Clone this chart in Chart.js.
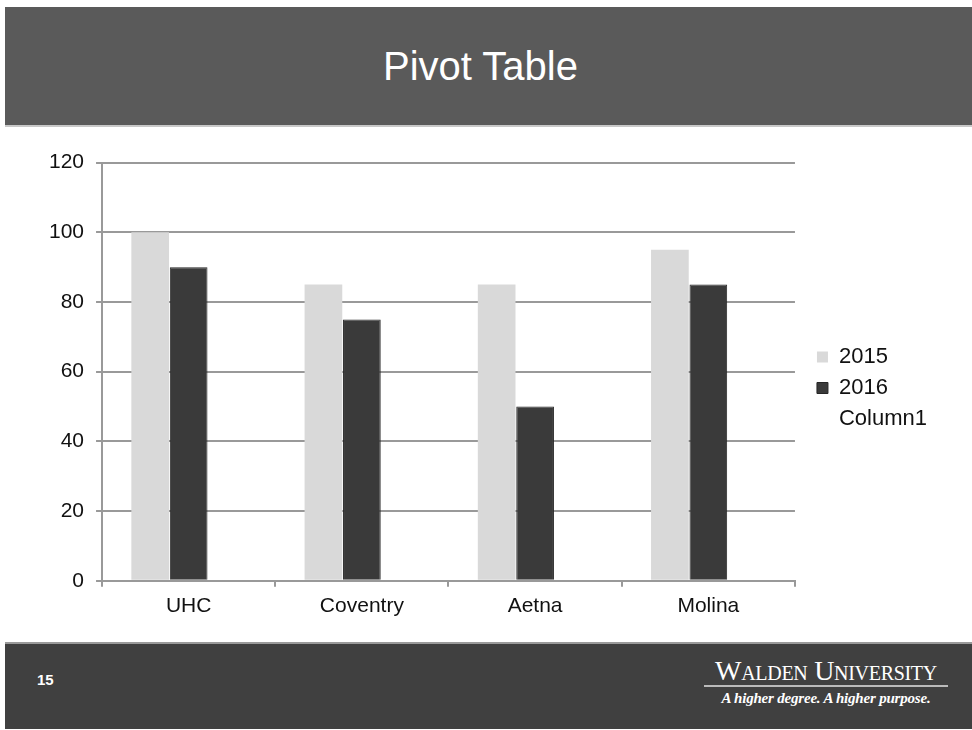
<!DOCTYPE html>
<html>
<head>
<meta charset="utf-8">
<script src="https://cdn.jsdelivr.net/npm/chart.js@4/dist/chart.umd.min.js"></script>
<style>
  body { margin: 0; background: #fff; width: 972px; height: 730px; overflow: hidden; position: relative; font-family: "Liberation Sans", Arial, sans-serif; }
  .header { position: absolute; left: 5px; top: 7px; width: 967px; height: 118px; background: #5a5a5a; border-bottom: 2px solid #c8c8c8; }
  .header h1 { margin: 0; color: #fff; font-weight: normal; font-size: 40px; text-align: center; line-height: 118px; padding-right: 16px; }
  .footer { position: absolute; left: 5px; top: 642px; width: 967px; height: 85px; background: #404040; border-top: 2px solid #9a9a9a; }
  .page { position: absolute; left: 32px; top: 27px; color: #fff; font-weight: bold; font-size: 15px; }
  .logo { position: absolute; left: 699px; top: 13px; width: 244px; text-align: center; color: #fff; font-family: "Liberation Serif", "DejaVu Serif", serif; }
  .logo .name { font-size: 28px; font-variant: small-caps; letter-spacing: -0.3px; line-height: 27px; border-bottom: 2px solid #bbb; padding-bottom: 1px; white-space: nowrap; }
  .logo .tag { font-size: 15px; font-style: italic; font-weight: bold; margin-top: 3px; letter-spacing: -0.2px; white-space: nowrap; }
  .wrap { position: absolute; left: 0; top: 138px; width: 972px; height: 500px; }
</style>
</head>
<body>
<div class="header"><h1>Pivot Table</h1></div>
<div class="wrap"><canvas id="myChart"></canvas></div>
<div class="footer">
  <div class="page">15</div>
  <div class="logo"><div class="name">Walden University</div><div class="tag">A higher degree. A higher purpose.</div></div>
</div>
<script>
const categories = ['UHC', 'Coventry', 'Aetna', 'Molina'];
const values2015 = [100, 85, 85, 95];
const values2016 = [90, 75, 50, 85];
const column1 = [null, null, null, null];
const yTicks = [0, 20, 40, 60, 80, 100, 120];

const ctx = document.getElementById('myChart').getContext('2d');
new Chart(ctx, {
  type: 'bar',
  data: {
    labels: categories,
    datasets: [
      { label: '2015', data: values2015, backgroundColor: '#d9d9d9', borderColor: '#d9d9d9', borderWidth: 0 },
      { label: '2016', data: values2016, backgroundColor: '#3a3a3a', borderColor: '#262626', borderWidth: 1 },
      { label: 'Column1', data: column1, backgroundColor: 'rgba(0,0,0,0)', borderColor: 'rgba(0,0,0,0)', borderWidth: 0 }
    ]
  },
  options: {
    responsive: true,
    maintainAspectRatio: false,
    animation: false,
    categoryPercentage: 0.666,
    barPercentage: 0.98,
    layout: { padding: { left: 37, right: 35, top: 12, bottom: 12 } },
    scales: {
      x: {
        grid: { display: true, drawOnChartArea: false, drawTicks: true, tickLength: 6, color: '#999', lineWidth: 2, offset: true },
        border: { display: true, color: '#999', width: 2 },
        ticks: { color: '#111', font: { family: 'Liberation Sans', size: 21 }, padding: 7 }
      },
      y: {
        min: 0,
        max: 120,
        afterBuildTicks: (scale) => { scale.ticks = yTicks.map(v => ({ value: v })); },
        grid: { color: '#999', lineWidth: 2, tickLength: 6 },
        border: { display: true, color: '#999', width: 2 },
        ticks: { color: '#111', font: { family: 'Liberation Sans', size: 21 }, padding: 12 }
      },
      gap: {
        position: 'right',
        display: true,
        min: 0,
        max: 1,
        grid: { display: false, drawTicks: false },
        border: { display: false },
        ticks: { display: false },
        afterFit: (scale) => { scale.width = 13; }
      }
    },
    plugins: {
      legend: {
        position: 'right',
        align: 'center',
        labels: {
          color: '#111',
          font: { family: 'Liberation Sans', size: 22 },
          boxWidth: 11,
          boxHeight: 11,
          padding: 9
        }
      },
      tooltip: { enabled: false }
    }
  }
});
</script>
</body>
</html>
